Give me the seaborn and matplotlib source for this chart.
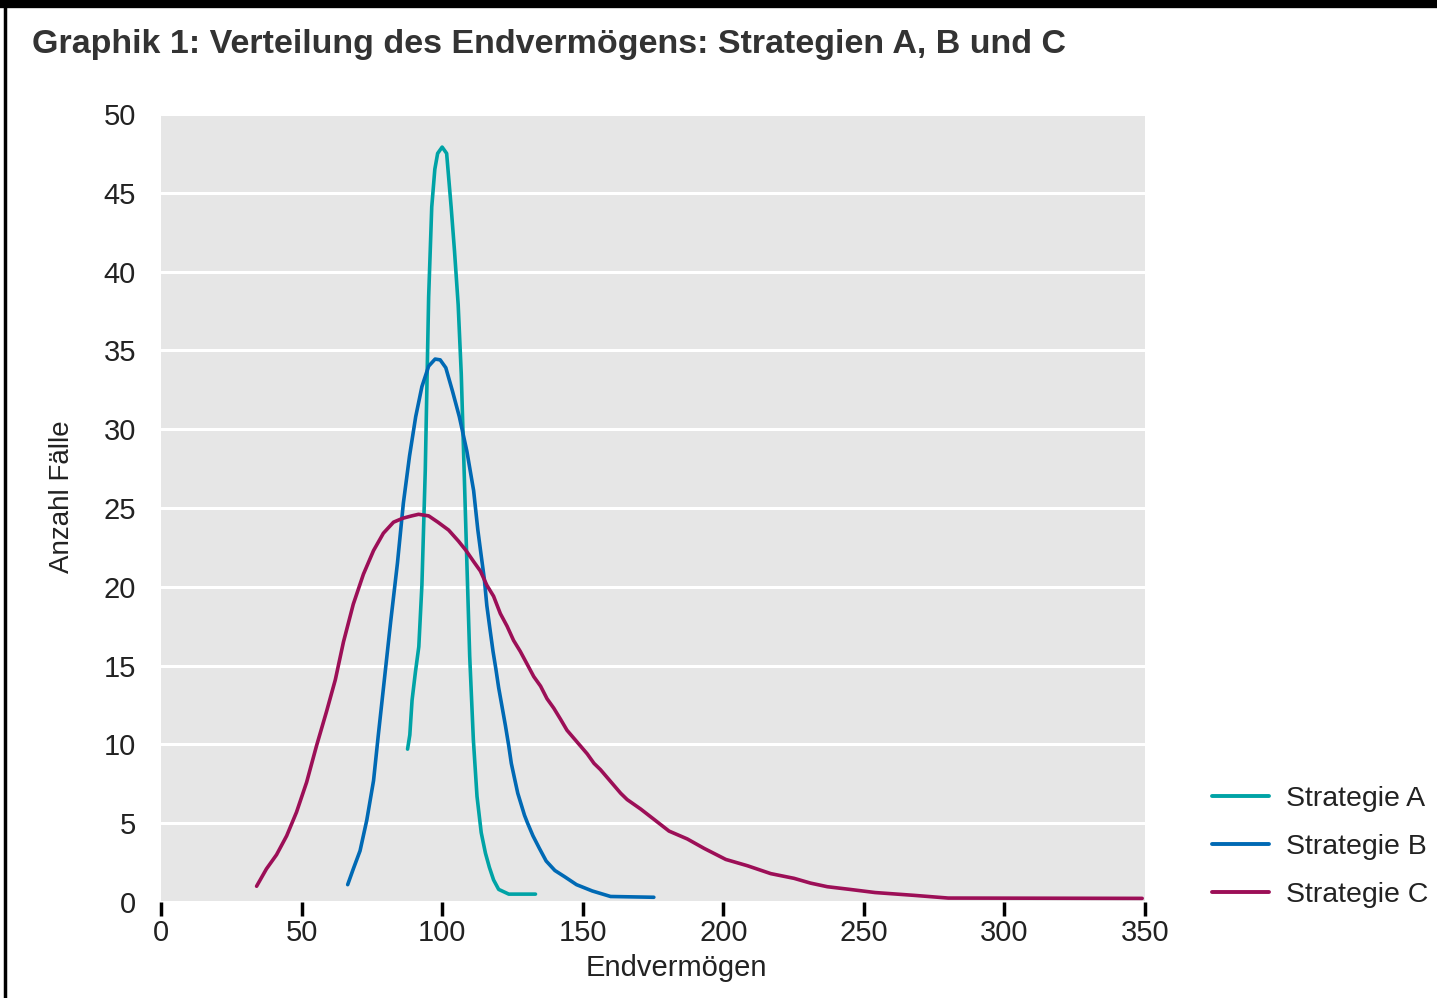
import matplotlib
matplotlib.use("Agg")
import numpy as np
import pandas as pd
import matplotlib.pyplot as plt
import seaborn as sns
from matplotlib.lines import Line2D

# Werte (Endvermögen, Anzahl Fälle)
a_x = [87.7, 88.5, 89.3, 90.5, 91.7, 92.8, 94.0, 95.2, 96.3, 97.4, 98.4, 100.0,
       101.6, 103.2, 104.4, 105.7, 106.8, 107.7, 108.7, 109.8, 111.1, 112.4,
       113.9, 115.4, 116.8, 118.3, 120.1, 123.7, 133.2]
a_y = [9.7, 10.6, 12.8, 14.6, 16.2, 20.1, 27.4, 38.4, 44.1, 46.5, 47.5, 47.9,
       47.5, 44.1, 41.3, 37.9, 33.5, 28.1, 22.1, 15.6, 10.3, 6.7,
       4.4, 3.1, 2.2, 1.4, 0.8, 0.5, 0.5]

b_x = [66.4, 68.4, 70.8, 73.2, 75.6, 77.3, 79.5, 81.7, 84.1, 86.2, 88.4, 90.6,
       92.8, 95.2, 97.5, 99.3, 101.3, 103.7, 106.1, 108.8, 111.2, 112.7, 113.8,
       115.0, 115.9, 117.1, 118.1, 119.1, 120.1, 121.3, 122.5, 123.7, 124.6,
       125.8, 126.9, 128.1, 129.3, 130.4, 132.3, 134.6, 137.0, 140.1, 143.6,
       147.8, 153.4, 159.9, 175.3]
b_y = [1.1, 2.1, 3.25, 5.2, 7.7, 10.6, 14.2, 17.8, 21.5, 25.3, 28.3, 30.8,
       32.7, 34.0, 34.45, 34.4, 33.9, 32.4, 30.8, 28.6, 26.1, 23.6, 22.1,
       20.5, 18.8, 17.2, 15.9, 14.8, 13.6, 12.4, 11.2, 9.9, 8.8,
       7.8, 6.9, 6.2, 5.5, 5.0, 4.2, 3.4, 2.6, 2.0, 1.6,
       1.1, 0.7, 0.35, 0.3]

c_x = [34.0, 37.5, 41.1, 44.7, 48.2, 51.8, 55.3, 58.9, 62.0, 64.9, 68.4, 72.0,
       75.6, 79.1, 82.7, 86.0, 89.2, 91.6, 95.2, 98.5, 102.3, 105.8, 108.5,
       111.2, 113.6, 115.9, 118.3, 120.7, 123.1, 125.4, 127.8, 130.2, 132.6,
       135.0, 137.3, 139.7, 142.1, 144.4, 146.8, 149.2, 151.6, 154.0, 156.3,
       158.7, 161.1, 163.5, 165.8, 170.6, 175.3, 180.7, 187.2, 193.2, 200.9,
       208.6, 216.9, 225.2, 231.0, 237.0, 245.0, 254.0, 268.0, 280.0, 349.0]
c_y = [1.0, 2.1, 3.0, 4.2, 5.7, 7.6, 9.9, 12.1, 14.1, 16.5, 18.9, 20.8,
       22.3, 23.4, 24.1, 24.35, 24.5, 24.6, 24.5, 24.1, 23.6, 22.9, 22.3,
       21.6, 21.0, 20.1, 19.4, 18.3, 17.5, 16.6, 15.9, 15.1, 14.3,
       13.7, 12.9, 12.3, 11.6, 10.9, 10.4, 9.9, 9.4, 8.8, 8.4,
       7.9, 7.4, 6.9, 6.5, 5.9, 5.25, 4.5, 4.0, 3.4, 2.7,
       2.3, 1.8, 1.5, 1.2, 0.97, 0.8, 0.6, 0.42, 0.25, 0.23]

strategien = ["Strategie A", "Strategie B", "Strategie C"]
farben = ["#00a3a6", "#0069b4", "#9c0f57"]
y_ticks = [0, 5, 10, 15, 20, 25, 30, 35, 40, 45, 50]
x_ticks = [0, 50, 100, 150, 200, 250, 300, 350]

df = pd.concat([
    pd.DataFrame({"wert": a_x, "faelle": a_y, "strategie": strategien[0]}),
    pd.DataFrame({"wert": b_x, "faelle": b_y, "strategie": strategien[1]}),
    pd.DataFrame({"wert": c_x, "faelle": c_y, "strategie": strategien[2]}),
], ignore_index=True)

sns.set_style("darkgrid", {"axes.facecolor": "#e6e6e6", "grid.color": "white"})
plt.rcParams["font.family"] = ["Liberation Sans", "DejaVu Sans"]

W, H = 1437, 998
fig = plt.figure(figsize=(W / 100, H / 100), dpi=100)
ax = fig.add_axes([161 / W, 1 - 902 / H, (1145 - 161) / W, (902 - 114) / H])

sns.lineplot(data=df, x="wert", y="faelle", hue="strategie", palette=farben,
             hue_order=strategien, linewidth=2.6, sort=False, ax=ax)

ax.set_xlim(0, 350)
ax.set_ylim(0, 50)
ax.set_xticks(x_ticks)
ax.set_yticks(y_ticks)
ax.grid(axis="y", color="white", linewidth=2.2)
ax.grid(axis="x", visible=False)
for s in ax.spines.values():
    s.set_visible(False)
ax.tick_params(axis="x", length=10, width=2.5, color="black", pad=2,
               labelsize=21, labelcolor="#222222", bottom=True)
ax.tick_params(axis="y", length=0, pad=18, labelsize=21, labelcolor="#222222")
ax.set_xlabel("")
ax.set_ylabel("")

fig.text(32 / W, 1 - 45 / H, "Graphik 1: Verteilung des Endvermögens: Strategien A, B und C",
         fontsize=24.5, fontweight="bold", color="#333333", va="center", ha="left")
fig.text(62 / W, 1 - 497 / H, "Anzahl Fälle", rotation=90, fontsize=20,
         color="#222222", ha="center", va="center")
fig.text(676 / W, 1 - 968 / H, "Endvermögen", fontsize=21,
         color="#222222", ha="center", va="center")

# Legende rechts unten, ohne Rahmen
handles, labels = ax.get_legend_handles_labels()
ax.get_legend().remove()
leg = fig.legend(handles, labels, loc="center left", bbox_to_anchor=(1186 / W, 1 - 847 / H),
                 frameon=False, fontsize=20.5, handlelength=2.0, handletextpad=0.62,
                 labelspacing=0.78, labelcolor="#222222")
for ln in leg.get_lines():
    ln.set_linewidth(2.8)

# schwarzer Rahmen oben und links
fig.add_artist(Line2D([0, 1], [1 - 4 / H, 1 - 4 / H], color="black", linewidth=6,
                      transform=fig.transFigure))
fig.add_artist(Line2D([5 / W, 5 / W], [0, 1], color="black", linewidth=2.5,
                      transform=fig.transFigure))

fig.savefig("out.png", dpi=100)
